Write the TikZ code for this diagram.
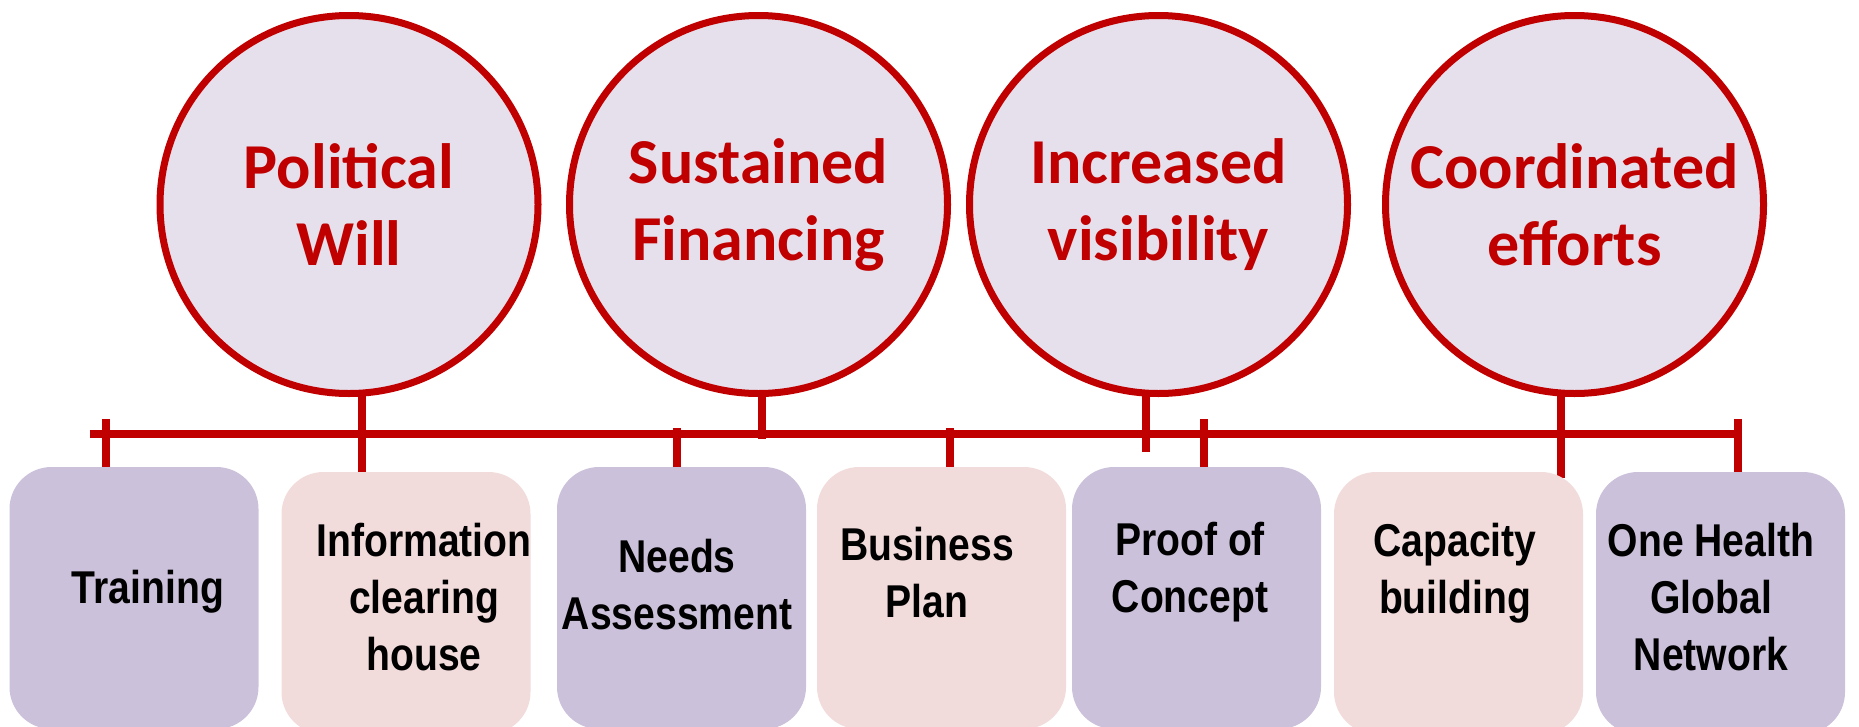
\documentclass[tikz,border=0pt]{standalone}
\usepackage{fontspec}
\setmainfont{Liberation Sans}
\newfontfamily\circfont{Carlito}
\newfontfamily\boxfont{Liberation Sans}[FakeStretch=0.85]
\usetikzlibrary{backgrounds}
\definecolor{dred}{HTML}{C00000}
\definecolor{cfill}{HTML}{E6E0EC}
\definecolor{lilac}{HTML}{CCC1DA}
\definecolor{blush}{HTML}{F2DCDB}
\begin{document}
\begin{tikzpicture}[x=1pt,y=-1pt,
  circ/.style={circle, draw=dred, line width=7pt, fill=cfill, minimum size=378pt,
    inner sep=0pt, align=center, text=dred,
    font=\circfont\bfseries\fontsize{64}{77}\selectfont},
  boxshape/.style={rectangle, rounded corners=42pt, minimum width=249pt,
    minimum height=262pt, anchor=north, inner sep=0pt, outer sep=0pt, draw=none},
  boxtext/.style={align=center, anchor=north, inner sep=0pt, text=black,
    font=\boxfont\bfseries\fontsize{46}{57}\selectfont},
  link/.style={draw=dred, line width=8pt}]
\useasboundingbox (0,0) rectangle (1859,726);
\clip (0,0) rectangle (1859,726);

% circles
\node[circ] (c1) at (349,204.5) {Political\\Will};
\node[circ] (c2) at (758.5,204.5) {Sustained\\Financing};
\node[circ] (c3) at (1158.5,204.5) {Increased\\visibility};
\node[circ] (c4) at (1574.5,204.5) {Coordinated\\efforts};

% boxes
\node[boxshape, fill=lilac] (b1) at (134,467) {};
\node[boxshape, fill=blush] (b2) at (406,472) {};
\node[boxshape, fill=lilac] (b3) at (681.5,467) {};
\node[boxshape, fill=blush] (b4) at (941.5,467) {};
\node[boxshape, fill=lilac] (b5) at (1196.5,467) {};
\node[boxshape, fill=blush] (b6) at (1458.5,472) {};
\node[boxshape, fill=lilac] (b7) at (1720.5,472) {};

% box texts
\node[boxtext] (x1) at (148,569.5) {Training};
\node[boxtext] (x2) at (424,522.5) {Information\\clearing\\house};
\node[boxtext] (x3) at (677,538.5) {Needs\\Assessment};
\node[boxtext] (x4) at (927,526.5) {Business\\Plan};
\node[boxtext] (x5) at (1190,521.5) {Proof of\\Concept};
\node[boxtext] (x6) at (1455,522.5) {Capacity\\building};
\node[boxtext] (x7) at (1711,522.5) {One Health\\Global\\Network};

% connector coordinates
\coordinate (L) at (90,434);
\coordinate (R) at (1734,434);
\coordinate (t1) at (106,419);
\coordinate (t3) at (677,428);
\coordinate (t4) at (950,428);
\coordinate (t5) at (1204,419);
\coordinate (tR) at (1738,419);
\coordinate (s1) at (362,0);
\coordinate (e2) at (762,439);
\coordinate (e3) at (1146,452);
\coordinate (e4) at (1561,478);

\begin{pgfonlayer}{background}
\draw[link] (L) -- (R);
\draw[link] (t1) -- (t1 |- b1.north);
\draw[link] (t3) -- (t3 |- b3.north);
\draw[link] (t4) -- (t4 |- b4.north);
\draw[link] (t5) -- (t5 |- b5.north);
\draw[link] (tR) -- (tR |- b7.north);
\draw[link] (s1 |- c1.center) -- (s1 |- b2.north);
\draw[link] (e2 |- c2.center) -- (e2);
\draw[link] (e3 |- c3.center) -- (e3);
\draw[link] (e4 |- c4.center) -- (e4);
\end{pgfonlayer}
\end{tikzpicture}
\end{document}
